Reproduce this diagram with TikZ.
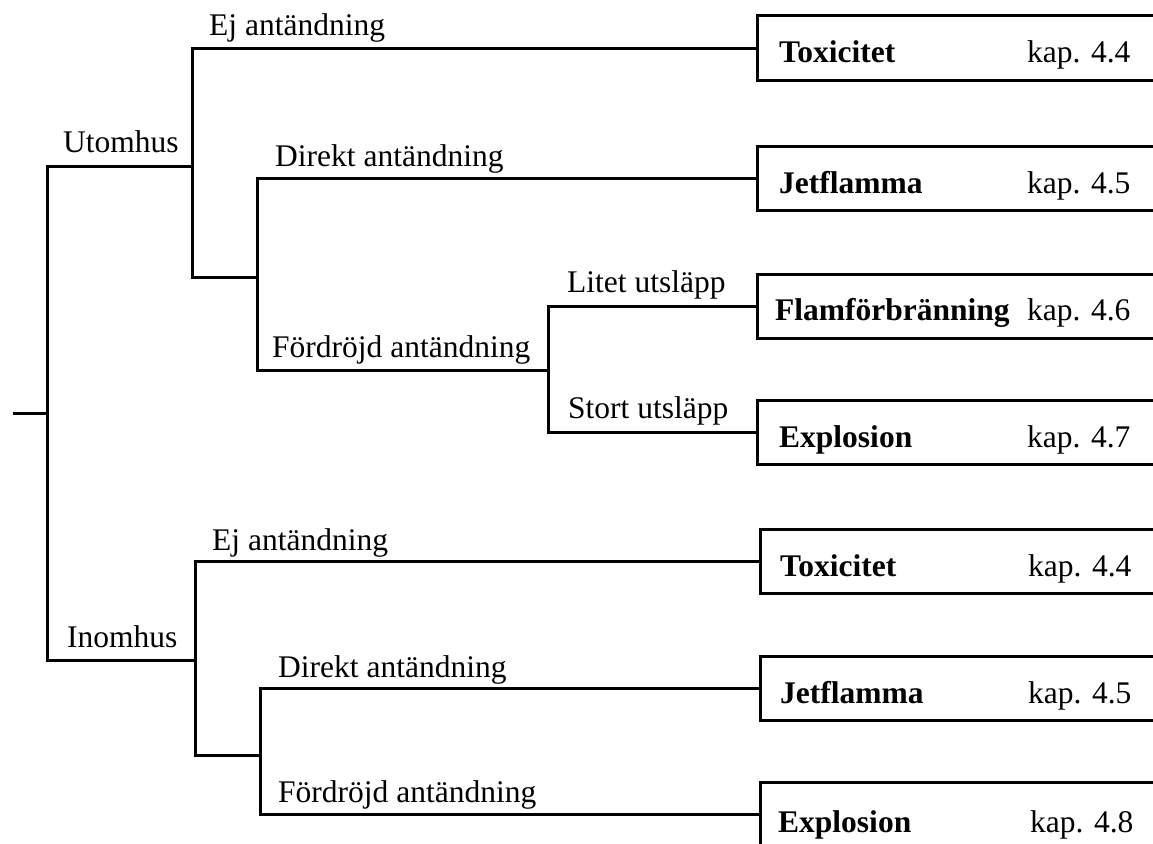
\documentclass[tikz,border=0pt]{standalone}
\usepackage{fontspec}
\setmainfont{Liberation Serif}
\begin{document}
\begin{tikzpicture}[x=1pt,y=-1pt,
  wire/.style={line width=3pt},
  lbl/.style={anchor=base west,inner sep=0pt,font=\fontsize{31.5}{36}\selectfont},
  outcome/.style={rectangle,minimum width=396pt,minimum height=64pt,inner sep=0pt,anchor=north west},
  outtext/.style={anchor=base west,inner sep=0pt,font=\fontsize{31.5}{36}\selectfont}]
\useasboundingbox (0,0) rectangle (1153,843);

% outcome boxes
\node[outcome] (b1) at (757,16) {};
\node[outcome] (b2) at (757,146) {};
\node[outcome] (b3) at (757,274) {};
\node[outcome] (b4) at (757,400) {};
\node[outcome] (b5) at (760,529) {};
\node[outcome] (b6) at (760,656) {};
\node[outcome] (b7) at (760,782) {};
\foreach \b in {b1,b2,b3,b4,b5,b6,b7}
  \draw[wire] (\b.north east) -- (\b.north west) -- (\b.south west) -- (\b.south east);

\node[outtext] (t1) at ([shift={(22,47)}]b1.north west) {\makebox[248pt][l]{\textbf{Toxicitet}}kap. 4.4};
\node[outtext] (t2) at ([shift={(22,47)}]b2.north west) {\makebox[248pt][l]{\textbf{Jetflamma}}kap. 4.5};
\node[outtext] (t3) at ([shift={(18,46)}]b3.north west) {\makebox[252pt][l]{\textbf{Flamförbränning}}kap. 4.6};
\node[outtext] (t4) at ([shift={(22,47)}]b4.north west) {\makebox[248pt][l]{\textbf{Explosion}}kap. 4.7};
\node[outtext] (t5) at ([shift={(20,47)}]b5.north west) {\makebox[248pt][l]{\textbf{Toxicitet}}kap. 4.4};
\node[outtext] (t6) at ([shift={(20,47)}]b6.north west) {\makebox[248pt][l]{\textbf{Jetflamma}}kap. 4.5};
\node[outtext] (t7) at ([shift={(18,50)}]b7.north west) {\makebox[252pt][l]{\textbf{Explosion}}kap. 4.8};

% junction coordinates
\coordinate (r0) at (13,413);
\coordinate (r1) at (47,413);
\coordinate (U) at (192,166);
\coordinate (A) at (257,277);
\coordinate (F) at (548,370);
\coordinate (I) at (195,660);
\coordinate (B) at (260,755);

% connectors
\draw[wire] (r0) -- (r1);
\draw[wire] (r1) |- (U);
\draw[wire] (r1) |- (I);
\draw[wire] (U) |- (b1.west);
\draw[wire] (U) |- (A);
\draw[wire] (A) |- (b2.west);
\draw[wire] (A) |- (F);
\draw[wire] (F) |- (b3.west);
\draw[wire] (F) |- (b4.west);
\draw[wire] (I) |- (b5.west);
\draw[wire] (I) |- (B);
\draw[wire] (B) |- (b6.west);
\draw[wire] (B) |- (b7.west);

% branch labels
\node[lbl] (l1) at (209,36) {Ej antändning};
\node[lbl] (l2) at (63,152) {Utomhus};
\node[lbl] (l3) at (275,166) {Direkt antändning};
\node[lbl] (l4) at (272,357) {Fördröjd antändning};
\node[lbl] (l5) at (567,292) {Litet utsläpp};
\node[lbl] (l6) at (568,418) {Stort utsläpp};
\node[lbl] (l7) at (212,550) {Ej antändning};
\node[lbl] (l8) at (67,647) {Inomhus};
\node[lbl] (l9) at (278,677) {Direkt antändning};
\node[lbl] (l10) at (278,802) {Fördröjd antändning};
\end{tikzpicture}
\end{document}
